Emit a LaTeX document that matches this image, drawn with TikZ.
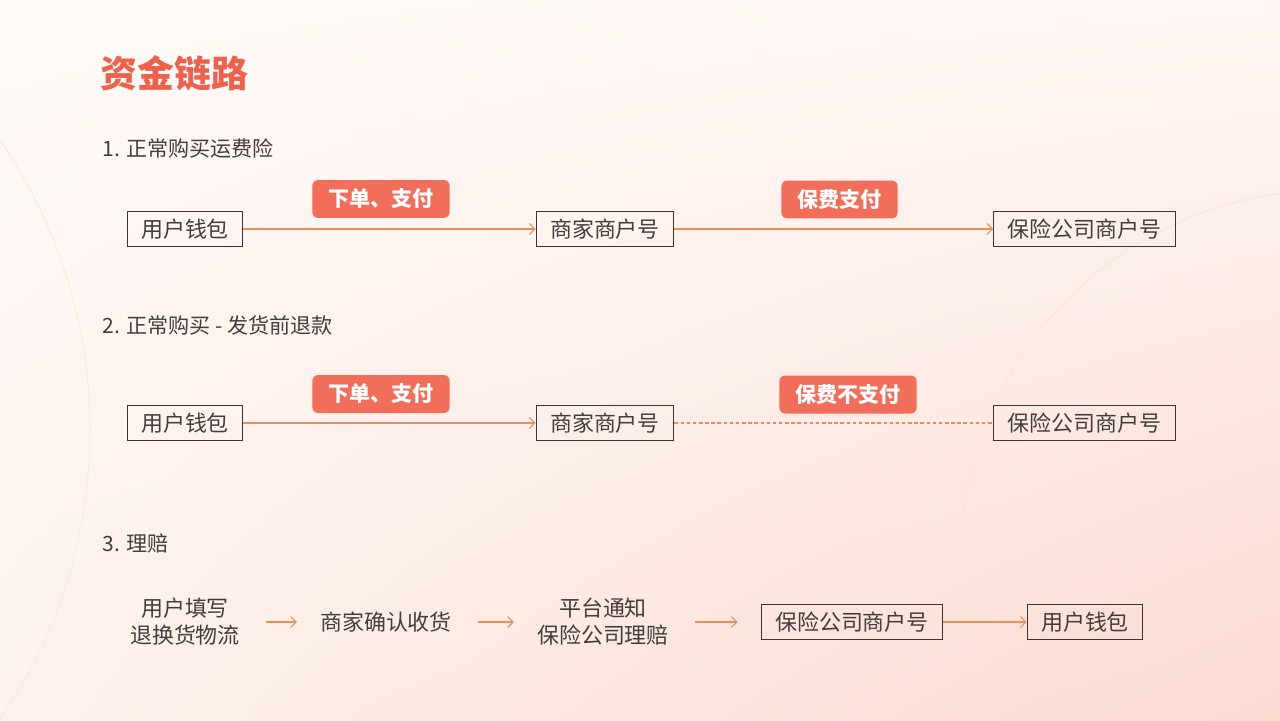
\documentclass[tikz,border=0pt]{standalone}
\usepackage{fontspec}
\setmainfont{Noto Sans CJK SC}
\usetikzlibrary{positioning,arrows.meta,shadings}
\definecolor{coral}{RGB}{241,110,90}
\definecolor{titlecoral}{RGB}{236,98,76}
\definecolor{linkorange}{RGB}{234,142,88}
\definecolor{inkgray}{RGB}{66,62,60}
\definecolor{boxgray}{RGB}{58,52,50}
\definecolor{bgtl}{RGB}{255,250,248}
\definecolor{bgtr}{RGB}{255,247,244}
\definecolor{bgbl}{RGB}{253,242,236}
\definecolor{bgbr}{RGB}{251,218,208}

\begin{document}
\begin{tikzpicture}[
  x=0.02cm, y=-0.02cm,
  acct/.style={draw=boxgray, line width=0.6pt, text=inkgray,
    font=\fontsize{12.5}{15}\selectfont, minimum height=0.7cm,
    inner xsep=0.28cm, inner ysep=0pt},
  tag/.style={fill=coral, rounded corners=0.12cm, text=white,
    font=\fontsize{12}{14}\selectfont\bfseries, minimum height=0.76cm,
    inner xsep=0.32cm, inner ysep=0pt},
  stage/.style={text=inkgray, align=center, inner sep=0pt,
    font=\fontsize{12.5}{15.4}\selectfont},
  heading/.style={anchor=west, text=inkgray, inner sep=0pt,
    font=\fontsize{12}{14}\selectfont},
  link/.style={draw=linkorange, line width=0.6pt,
    -{Straight Barb[length=1.1mm, width=2.2mm]}}
]
% ---- Canvas and soft background ----
\useasboundingbox (0,0) rectangle (1280,720);
\shade[upper left=bgtl, upper right=bgtr, lower left=bgbl, lower right=bgbr]
  (0,0) rectangle (1280,720);
\begin{scope}
  \clip (0,0) rectangle (1280,720);
  \draw[linkorange!18, line width=0.6pt] (-420,430) circle (510);
  \draw[linkorange!22, line width=0.6pt] (1330,560) circle (370);
\end{scope}

% Row y-coordinates (pixels, top = 0)
\def\yRowA{229}
\def\yRowB{423}
\def\yRowC{622}

% ---- Title and section headings ----
\node[anchor=west, inner sep=0pt, text=titlecoral,
  font=\fontsize{21}{24}\selectfont\bfseries] (title) at (100,73) {资金链路};
\node[heading] (h1) at (102,148) {1. 正常购买运费险};
\node[heading] (h2) at (102,325) {2. 正常购买 - 发货前退款};
\node[heading] (h3) at (102,543) {3. 理赔};

% ---- 1. normal purchase with shipping insurance ----
\node[acct] (u1) at (185,\yRowA) {用户钱包};
\node[acct] (m1) at (605,\yRowA) {商家商户号};
\node[acct, minimum width=3.54cm] (i1) at (1084.5,\yRowA) {保险公司商户号};
\draw[link] (u1) -- (m1);
\draw[link] (m1) -- (i1);
\node[tag] (t1a) at (381,199) {下单、支付};
\node[tag] (t1b) at (839.5,199.5) {保费支付};

% ---- 2. refund before shipping ----
\node[acct] (u2) at (185,\yRowB) {用户钱包};
\node[acct] (m2) at (605,\yRowB) {商家商户号};
\node[acct, minimum width=3.54cm] (i2) at (1084.5,\yRowB) {保险公司商户号};
\draw[link] (u2) -- (m2);
\draw[draw=linkorange, line width=0.6pt, dash pattern=on 2pt off 1.5pt] (m2) -- (i2);
\node[tag] (t2a) at (381,394) {下单、支付};
\node[tag] (t2b) at (848,394.5) {保费不支付};

% ---- 3. claim ----
\node[stage] (s1) at (185,\yRowC) {用户填写\\退换货物流};
\node[stage] (s2) at (386,\yRowC) {商家确认收货};
\node[stage] (s3) at (603,\yRowC) {平台通知\\保险公司理赔};
\node[acct, minimum width=3.56cm] (i3) at (852,\yRowC) {保险公司商户号};
\node[acct] (u3) at (1085,\yRowC) {用户钱包};
\draw[link, shorten <=0.52cm, shorten >=0.46cm] (s1) -- (s2);
\draw[link, shorten <=0.52cm, shorten >=0.46cm] (s2) -- (s3);
\draw[link, shorten <=0.52cm, shorten >=0.46cm] (s3) -- (i3);
\draw[link] (i3) -- (u3);

\end{tikzpicture}
\end{document}
